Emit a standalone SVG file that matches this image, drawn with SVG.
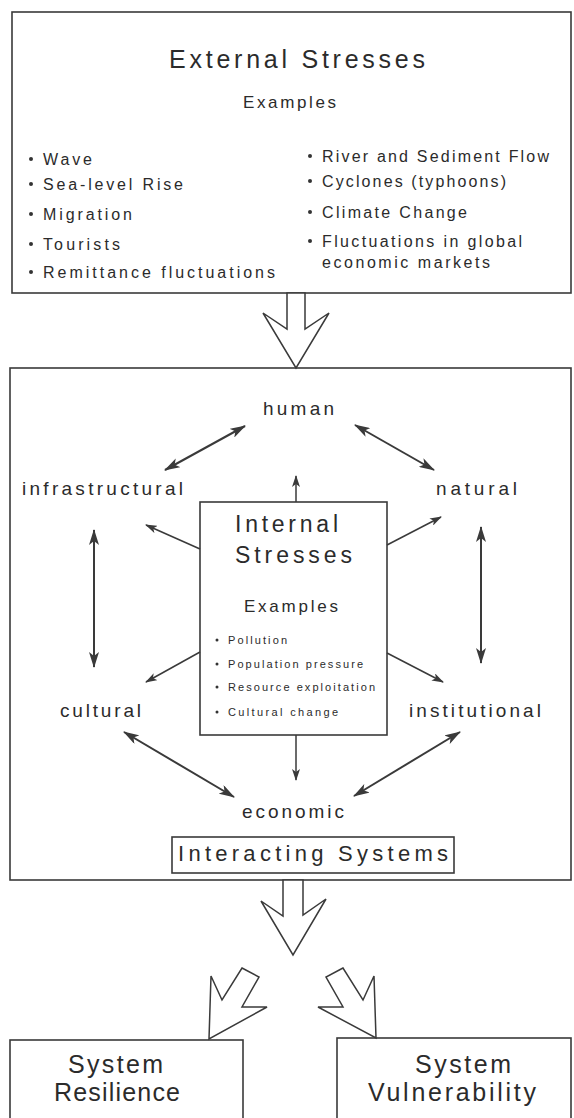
<svg xmlns="http://www.w3.org/2000/svg" width="574" height="1118" viewBox="0 0 574 1118">
<style>
text{font-family:"Liberation Sans",Arial,sans-serif;fill:#2b2b2b}
.box{fill:none;stroke:#3a3a3a;stroke-width:1.6}
.t1{font-size:25px}
.t2{font-size:17px}
.t3{font-size:16px}
.t4{font-size:19px}
.t5{font-size:23px}
.t6{font-size:11px}
.t7{font-size:22px}
.blt{fill:#333}
.dbl{stroke:#3a3a3a;stroke-width:2;fill:none;marker-start:url(#ah);marker-end:url(#ah)}
.one{stroke:#3a3a3a;stroke-width:1.5;fill:none;marker-end:url(#as)}
.hol{fill:#fff;stroke:#3a3a3a;stroke-width:1.5;stroke-linejoin:miter}
</style>
<defs>
<marker id="ah" viewBox="0 0 16 10" refX="15" refY="5" markerWidth="16" markerHeight="10" orient="auto-start-reverse" markerUnits="userSpaceOnUse"><path d="M0,0 L16,5 L0,10 L4,5 z" fill="#3a3a3a"/></marker>
<marker id="as" viewBox="0 0 12 8" refX="11" refY="4" markerWidth="12" markerHeight="8" orient="auto" markerUnits="userSpaceOnUse"><path d="M0,0 L12,4 L0,8 L3,4 z" fill="#3a3a3a"/></marker>
</defs>
<rect width="574" height="1118" fill="#fff"/>

<g id="external">
<rect class="box" x="12" y="12" width="559" height="281"/>
<text class="t1" x="169" y="68" textLength="256" lengthAdjust="spacing">External Stresses</text>
<text class="t2" x="243" y="108" textLength="93" lengthAdjust="spacing">Examples</text>
<circle class="blt" cx="31" cy="159" r="2"/>
<circle class="blt" cx="31" cy="184" r="2"/>
<circle class="blt" cx="31" cy="214" r="2"/>
<circle class="blt" cx="31" cy="244" r="2"/>
<circle class="blt" cx="31" cy="272" r="2"/>
<text class="t3" x="43" y="165" textLength="49" lengthAdjust="spacing">Wave</text>
<text class="t3" x="43" y="190" textLength="140" lengthAdjust="spacing">Sea-level Rise</text>
<text class="t3" x="43" y="220" textLength="89" lengthAdjust="spacing">Migration</text>
<text class="t3" x="43" y="250" textLength="77" lengthAdjust="spacing">Tourists</text>
<text class="t3" x="43" y="278" textLength="232" lengthAdjust="spacing">Remittance fluctuations</text>
<circle class="blt" cx="310" cy="156" r="2"/>
<circle class="blt" cx="310" cy="181" r="2"/>
<circle class="blt" cx="310" cy="212" r="2"/>
<circle class="blt" cx="310" cy="241" r="2"/>
<text class="t3" x="322" y="162" textLength="227" lengthAdjust="spacing">River and Sediment Flow</text>
<text class="t3" x="322" y="187" textLength="184" lengthAdjust="spacing">Cyclones (typhoons)</text>
<text class="t3" x="322" y="218" textLength="145" lengthAdjust="spacing">Climate Change</text>
<text class="t3" x="322" y="247" textLength="200" lengthAdjust="spacing">Fluctuations in global</text>
<text class="t3" x="322" y="268" textLength="168" lengthAdjust="spacing">economic markets</text>
</g>

<g id="interacting">
<rect class="box" x="10" y="368" width="561" height="512"/>
<rect class="box" x="172" y="837" width="282" height="36"/>
<text class="t7" x="178" y="861" textLength="270" lengthAdjust="spacing">Interacting Systems</text>
</g>

<g id="human"><text class="t4" x="263" y="415" textLength="71" lengthAdjust="spacing">human</text></g>
<g id="infrastructural"><text class="t4" x="22" y="495" textLength="161" lengthAdjust="spacing">infrastructural</text></g>
<g id="natural"><text class="t4" x="436" y="495" textLength="81" lengthAdjust="spacing">natural</text></g>
<g id="cultural"><text class="t4" x="60" y="717" textLength="81" lengthAdjust="spacing">cultural</text></g>
<g id="institutional"><text class="t4" x="409" y="717" textLength="132" lengthAdjust="spacing">institutional</text></g>
<g id="economic"><text class="t4" x="242" y="818" textLength="102" lengthAdjust="spacing">economic</text></g>

<g id="internal">
<rect class="box" x="200" y="502" width="187" height="233"/>
<text class="t5" x="235" y="532" textLength="103" lengthAdjust="spacing">Internal</text>
<text class="t5" x="235" y="563" textLength="117" lengthAdjust="spacing">Stresses</text>
<text class="t2" x="244" y="612" textLength="94" lengthAdjust="spacing">Examples</text>
<circle class="blt" cx="217" cy="640" r="1.5"/>
<circle class="blt" cx="217" cy="664" r="1.5"/>
<circle class="blt" cx="217" cy="687" r="1.5"/>
<circle class="blt" cx="217" cy="712" r="1.5"/>
<text class="t6" x="228" y="644" textLength="59" lengthAdjust="spacing">Pollution</text>
<text class="t6" x="228" y="668" textLength="135" lengthAdjust="spacing">Population pressure</text>
<text class="t6" x="228" y="691" textLength="147" lengthAdjust="spacing">Resource exploitation</text>
<text class="t6" x="228" y="716" textLength="110" lengthAdjust="spacing">Cultural change</text>
</g>

<g id="resilience">
<rect class="box" x="10" y="1040" width="233" height="90"/>
<text class="t1" x="68" y="1073" textLength="95" lengthAdjust="spacing">System</text>
<text class="t1" x="54" y="1101" textLength="126" lengthAdjust="spacing">Resilience</text>
</g>
<g id="vulnerability">
<rect class="box" x="337" y="1038" width="234" height="92"/>
<text class="t1" x="415" y="1073" textLength="96" lengthAdjust="spacing">System</text>
<text class="t1" x="368" y="1101" textLength="168" lengthAdjust="spacing">Vulnerability</text>
</g>

<g id="connectors">
<polygon class="hol" points="287,293 287,329 263,313 296,368 329,313 305,329 305,293"/>
<polygon class="hol" points="283,880 283,916 261,901 293,955 326,899 303,915 303,880"/>
<polygon class="hol" points="242,968 259,977 242,1007 267,1007 209,1039 211,976 222,1000"/>
<polygon class="hol" points="343,968 326,977 343,1007 318,1007 376,1038 374,976 363,1000"/>
<line class="dbl" x1="165" y1="470" x2="245" y2="426"/>
<line class="dbl" x1="355" y1="425" x2="434" y2="470"/>
<line class="dbl" x1="94" y1="530" x2="94" y2="667"/>
<line class="dbl" x1="481" y1="527" x2="481" y2="663"/>
<line class="dbl" x1="124" y1="732" x2="234" y2="797"/>
<line class="dbl" x1="460" y1="732" x2="354" y2="796"/>
<line class="one" x1="296" y1="502" x2="296" y2="476"/>
<line class="one" x1="200" y1="549" x2="146" y2="525"/>
<line class="one" x1="387" y1="545" x2="441" y2="517"/>
<line class="one" x1="200" y1="652" x2="146" y2="682"/>
<line class="one" x1="387" y1="653" x2="443" y2="682"/>
<line class="one" x1="296" y1="735" x2="296" y2="780"/>
</g>
</svg>
